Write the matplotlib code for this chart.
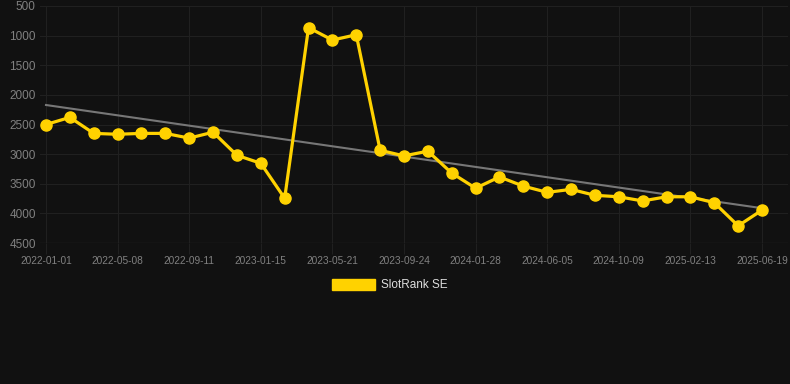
import numpy as np
import matplotlib
matplotlib.use("Agg")
import matplotlib.pyplot as plt

plt.rcParams['font.family'] = ['Liberation Sans', 'DejaVu Sans']

tick_labels = ["2022-01-01", "2022-05-08", "2022-09-11", "2023-01-15", "2023-05-21",
               "2023-09-24", "2024-01-28", "2024-06-05", "2024-10-09", "2025-02-13",
               "2025-06-19"]
ranks = [2500, 2380, 2650, 2665, 2650, 2650, 2730, 2630, 3020, 3155, 3745,
         865, 1075, 985, 2935, 3030, 2950, 3320, 3575, 3385, 3540, 3645,
         3595, 3695, 3720, 3790, 3720, 3720, 3820, 4210, 3945]
series_name = "SlotRank SE"

bg = "#111111"
yellow = "#FFD200"
grid_c = "#202020"

x = np.arange(len(ranks))
coef = np.polyfit(x, ranks, 1)
trend = np.polyval(coef, x)

fig = plt.figure(figsize=(7.9, 3.84), dpi=100, facecolor=bg)
ax = fig.add_axes([40/790, 1-243/384, 748/790, 237/384], facecolor=bg)

ax.plot(x[[0, -1]], trend[[0, -1]], color="#777777", lw=1.5, zorder=2)
ax.plot(x, ranks, color=yellow, lw=2.3, marker="o", ms=8, zorder=3, label=series_name)

ax.set_ylim(4500, 500)
ax.set_yticks([500, 1000, 1500, 2000, 2500, 3000, 3500, 4000, 4500])
ax.set_xlim(-6/23.87, 30 + 26/23.87)
ax.set_xticks(x[::3])
ax.set_xticklabels(tick_labels)

ax.grid(True, color=grid_c, lw=0.8)
ax.set_axisbelow(True)
for s in ax.spines.values():
    s.set_visible(False)
ax.axhline(4500, color="#2a2a2a", lw=0.9, zorder=1)
ax.tick_params(axis='x', colors=grid_c, labelcolor="#808080", labelsize=7.3, length=8, width=0.8, pad=1)
ax.tick_params(axis='y', colors=grid_c, labelcolor="#808080", labelsize=8.5, length=0, pad=3)

from matplotlib.patches import Patch
leg = fig.legend(handles=[Patch(facecolor=yellow, edgecolor=yellow, label=series_name)],
                 loc="center", bbox_to_anchor=(390/790, 1-285/384), frameon=False,
                 fontsize=8.5, handlelength=3.6, handleheight=1.1, handletextpad=0.5)
for t in leg.get_texts():
    t.set_color("#dddddd")

fig.savefig("out.png", dpi=100, facecolor=bg)
